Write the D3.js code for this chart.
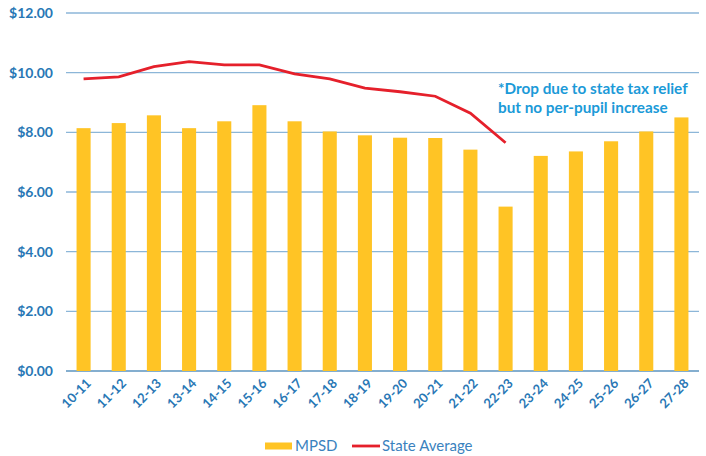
<!DOCTYPE html>
<html>
<head>
<meta charset="utf-8">
<script src="https://cdn.jsdelivr.net/npm/d3@7"></script>
<style>
  body { margin: 0; background: #fff; }
  svg { display: block; font-family: Lato, "Open Sans", sans-serif; }
</style>
</head>
<body>
<svg id="chart" width="706" height="456"></svg>
<script>
var years = ["10-11", "11-12", "12-13", "13-14", "14-15", "15-16", "16-17", "17-18", "18-19",
  "19-20", "20-21", "21-22", "22-23", "23-24", "24-25", "25-26", "26-27", "27-28"];
var mpsd = [8.14, 8.31, 8.57, 8.14, 8.37, 8.91, 8.37, 8.03, 7.90,
  7.82, 7.81, 7.42, 5.51, 7.21, 7.36, 7.70, 8.03, 8.50];
var stateAvg = [9.79, 9.86, 10.20, 10.37, 10.26, 10.26, 9.96, 9.79, 9.48,
  9.36, 9.21, 8.64, 7.65];
var yTicks = [0, 2, 4, 6, 8, 10, 12];

var margin = {top: 13, right: 7, bottom: 85, left: 66};
var width = 706 - margin.left - margin.right;
var height = 456 - margin.top - margin.bottom;

var svg = d3.select("#chart");
var chart = svg.append("g")
  .attr("transform", "translate(" + margin.left + "," + margin.top + ")");

var x = d3.scaleBand().domain(years).range([0, width]).paddingInner(0.6).paddingOuter(0.3);
var y = d3.scaleLinear().domain([0, 12]).range([height, 0]);

// gridlines
chart.selectAll(".grid")
  .data(yTicks)
  .enter().append("line")
  .attr("x1", 0)
  .attr("x2", width)
  .attr("y1", function(d) { return y(d); })
  .attr("y2", function(d) { return y(d); })
  .attr("stroke", function(d) { return d === 0 ? "#5b93bf" : "#8cb6d8"; })
  .attr("stroke-width", 1.3);

// y labels
chart.selectAll(".ylab")
  .data(yTicks)
  .enter().append("text")
  .attr("x", -13)
  .attr("y", function(d) { return y(d); })
  .attr("dy", "0.35em")
  .attr("text-anchor", "end")
  .attr("fill", "#2877b5")
  .attr("font-weight", "bold")
  .attr("font-size", 14)
  .text(function(d) { return "$" + d.toFixed(2); });

// bars
chart.selectAll(".bar")
  .data(mpsd)
  .enter().append("rect")
  .attr("x", function(d, i) { return x(years[i]); })
  .attr("width", x.bandwidth())
  .attr("y", function(d) { return y(d); })
  .attr("height", function(d) { return height - y(d); })
  .attr("fill", "#FFC425");

// state average line
var line = d3.line()
  .x(function(d, i) { return x(years[i]) + x.bandwidth() / 2; })
  .y(function(d) { return y(d); });

chart.append("path")
  .datum(stateAvg)
  .attr("d", line)
  .attr("fill", "none")
  .attr("stroke", "#E5202B")
  .attr("stroke-width", 2.8);

// x labels
chart.selectAll(".xlab")
  .data(years)
  .enter().append("text")
  .attr("transform", function(d) {
    return "translate(" + (x(d) + x.bandwidth() / 2 + 5) + "," + (height + 10) + ") rotate(-45)";
  })
  .attr("text-anchor", "end")
  .attr("dy", "0.35em")
  .attr("fill", "#2877b5")
  .attr("font-weight", "bold")
  .attr("font-size", 13)
  .text(function(d) { return d; });

// annotation
var note = chart.append("text")
  .attr("x", 432)
  .attr("y", 81)
  .attr("fill", "#1b9ad8")
  .attr("font-weight", "bold")
  .attr("font-size", 15.3);
note.append("tspan").attr("x", 432).text("*Drop due to state tax relief");
note.append("tspan").attr("x", 432).attr("dy", 19).text("but no per-pupil increase");

// legend
var legend = svg.append("g").attr("transform", "translate(265,446)");
legend.append("rect")
  .attr("x", 0).attr("y", -3.5)
  .attr("width", 27).attr("height", 7)
  .attr("fill", "#FFC425");
legend.append("text")
  .attr("x", 30).attr("y", 0).attr("dy", "0.35em")
  .attr("fill", "#3a82be").attr("font-size", 15)
  .text("MPSD");
legend.append("line")
  .attr("x1", 87).attr("x2", 115)
  .attr("y1", 0).attr("y2", 0)
  .attr("stroke", "#E5202B").attr("stroke-width", 2.8);
legend.append("text")
  .attr("x", 117).attr("y", 0).attr("dy", "0.35em")
  .attr("fill", "#3a82be").attr("font-size", 15)
  .text("State Average");
</script>
</body>
</html>
